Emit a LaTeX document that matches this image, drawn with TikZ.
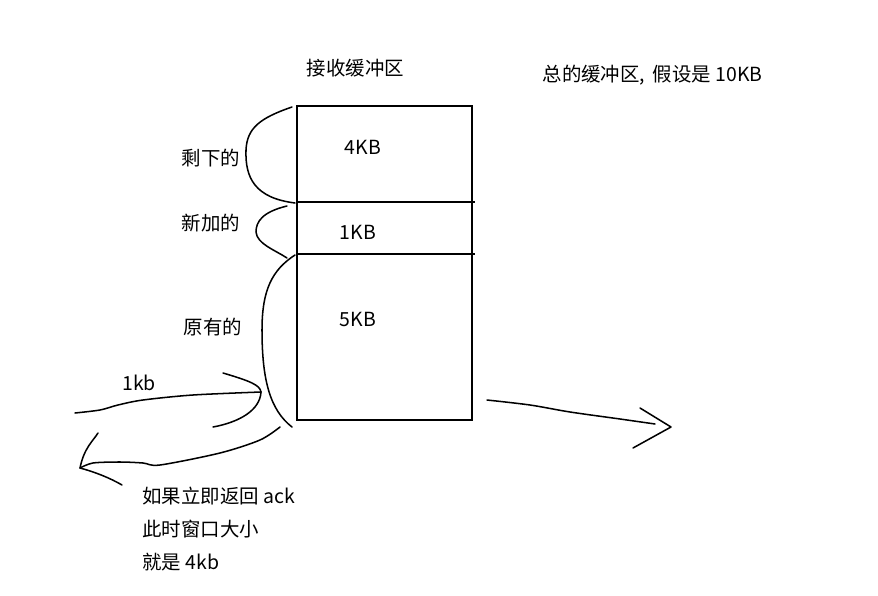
\documentclass[tikz,border=0pt]{standalone}
\usepackage{fontspec}
\setmainfont{Noto Sans CJK SC}
\usetikzlibrary{positioning, calc}
\tikzset{
  hand/.style={line width=1.3pt, line cap=round, line join=round},
  segbox/.style={draw, line width=2.4pt, inner sep=0pt, outer sep=0pt, minimum width=5.25cm},
  txt/.style={font=\fontsize{16.6}{20}\selectfont, inner sep=1pt}
}

\begin{document}
\begin{tikzpicture}[x=0.03cm, y=-0.03cm]
        \useasboundingbox (0,0) rectangle (878,596);

        % buffer
        \node[segbox, minimum height=2.88cm] (seg4) at (384.5,154) {};
        \node[segbox, minimum height=1.56cm, below=0pt of seg4] (seg1) {};
        \node[segbox, minimum height=4.98cm, below=0pt of seg1] (seg5) {};
        \draw[line width=2.4pt] (seg4.south east) -- ++(3,0);
        \draw[line width=2.4pt] (seg1.south east) -- ++(3,0);

        \node[txt] (lb4) at (363,147) {4KB};
        \node[txt] (lb1) at (358,232) {1KB};
        \node[txt] (lb5) at (358,319) {5KB};
        \node[txt] (title) at (355.5,68) {接收缓冲区};
        \node[txt] (total) at (652.5,75) {总的缓冲区,\, 假设是 10KB};

        % braces
        \node[txt] (rest) at (211,158) {剩下的};
        \node[txt] (added) at (211,223) {新加的};
        \node[txt] (orig) at (213,327) {原有的};
        \draw[hand] ($(seg4.north west)+(-5,1)$) .. controls (260,118) and (247,128) .. (246,150)
            .. controls (245,178) and (255,198) .. ($(seg4.south west)+(-2,1)$);
        \draw[hand] ($(seg1.north west)+(-10,4)$) .. controls (262,212) and (256,222) .. (256,232)
            .. controls (257,244) and (275,250) .. ($(seg1.south west)+(-10,4)$);
        \draw[hand] ($(seg5.north west)+(-2,1)$) .. controls (272,270) and (262,290) .. (262,330)
            .. controls (262,380) and (270,410) .. ($(seg5.south west)+(-5,7)$);

        % incoming 1kb
        \coordinate (intip) at (261,392);
        \draw[hand] plot[smooth] coordinates {(75,413) (100,410) (118,405) (143,400) (193,395) (intip)};
        \draw[hand] (223,373) .. controls (250,381) and (260,385) .. (intip);
        \draw[hand] (intip) .. controls (260,410) and (240,422) .. (213,427);
        \node[txt] (kb) at (139,383) {1kb};

        % ack back
        \coordinate (acktip) at (80,468);
        \draw[hand] plot[smooth] coordinates {(280,427) (260,440) (220,453) (160,465) (143,463) (120,462) (93,463) (acktip)};
        \draw[hand] (98,433) .. controls (93,441) and (84,448) .. (acktip);
        \draw[hand] (acktip) .. controls (95,472) and (110,478) .. (122,485);
        \node[txt, anchor=west] (ack1) at (141,496) {如果立即返回 ack};
        \node[txt, anchor=west] (ack2) at (141,529) {此时窗口大小};
        \node[txt, anchor=west] (ack3) at (141,562) {就是 4kb};

        % outgoing
        \coordinate (outtip) at (671,427);
        \draw[hand] plot[smooth] coordinates {($(seg5.south east)+(15,-20)$) (530,405) (570,412) (620,419) (655,424)};
        \draw[hand] (640,408) -- (outtip) -- (633,448);
    \end{tikzpicture}
\end{document}
